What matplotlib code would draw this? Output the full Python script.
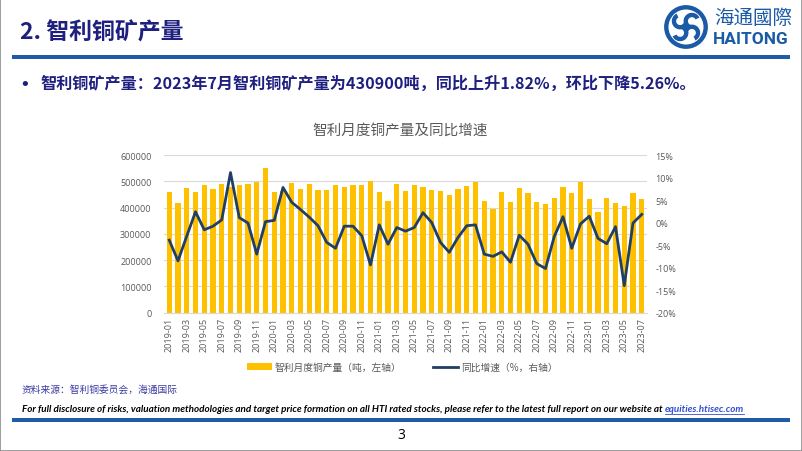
import numpy as np
import matplotlib
matplotlib.use("Agg")
import matplotlib.pyplot as plt
from matplotlib.patches import Circle, Rectangle, Wedge
from matplotlib.lines import Line2D

plt.rcParams['font.family'] = ['Noto Sans CJK SC', 'DejaVu Sans']

# monthly labels 2019-01 .. 2023-07
months = [f"{y}-{m:02d}" for y in range(2019, 2024) for m in range(1, 13)][:55]

# Chile monthly copper output (t)
output_t = [
    458000, 416000, 473000, 458000, 487000, 471000, 489000, 480000, 485000, 491000, 499000, 551000,
    461000, 462000, 495000, 471000, 491000, 466000, 466000, 485000, 480000, 487000, 486000, 500000,
    459000, 426000, 490000, 462000, 487000, 478000, 466000, 463000, 448000, 471000, 482000, 499000,
    426000, 395000, 459000, 420000, 475000, 456000, 423000, 415000, 435000, 477000, 454000, 499000,
    433000, 382000, 437000, 418000, 407000, 456000, 430900,
]

# year-on-year growth (%)
yoy_pct = [
    -3.9, -8.5, -3.0, 2.4, -1.6, -0.8, 0.6, 11.1, 1.1, -0.1, -7.0, 0.2,
    0.5, 7.8, 4.5, 2.9, 1.2, -0.7, -4.4, -5.7, -0.8, -0.8, -2.9, -9.4,
    -0.5, -4.8, -1.1, -1.9, -1.1, 2.2, 0.0, -4.4, -6.6, -3.3, -0.7, -0.5,
    -7.0, -7.5, -6.5, -8.8, -2.8, -4.8, -9.1, -10.2, -3.1, 1.3, -5.7, -0.3,
    1.4, -3.5, -4.7, -0.9, -14.0, -0.1, 1.82,
]

W, H = 802, 452
fig = plt.figure(figsize=(W / 100, H / 100), dpi=100)
fig.patch.set_facecolor("white")


def fx(x):
    return x / W


def fy(y):
    return 1 - y / H


navy = "#1F1F80"
blue = "#1F5BA8"
logo_blue = "#1B5AA6"

# slide frame and rules
fig.add_artist(Rectangle((0, 0), 1, 1, transform=fig.transFigure, fill=False,
                         edgecolor="#8C8C8C", linewidth=1.2))
fig.add_artist(Rectangle((fx(12), fy(60)), fx(778), 4 / H, transform=fig.transFigure,
                         facecolor=blue, edgecolor="none"))
fig.add_artist(Rectangle((fx(12), fy(423)), fx(778), 4 / H, transform=fig.transFigure,
                         facecolor=blue, edgecolor="none"))

# header
fig.text(fx(20), fy(33), "2. 智利铜矿产量", fontsize=16.5, fontweight="bold", color=navy,
         va="center", ha="left")

# logo (pinwheel in a ring)
lax = fig.add_axes([fx(663), fy(51), fx(46), 46 / H])
lax.set_xlim(-1.05, 1.05)
lax.set_ylim(-1.05, 1.05)
lax.set_aspect("equal")
lax.axis("off")
lax.add_patch(Circle((0, 0), 1.0, facecolor=logo_blue, edgecolor="none"))
lax.add_patch(Circle((0, 0), 0.8, facecolor="white", edgecolor="none"))
for ang in (45, 135, 225, 315):
    c = (0.38 * np.cos(np.radians(ang)), 0.38 * np.sin(np.radians(ang)))
    lax.add_patch(Wedge(c, 0.38, ang - 20, ang + 200, width=0.2,
                        facecolor=logo_blue, edgecolor="none"))
lax.add_patch(Circle((0, 0), 0.12, facecolor=logo_blue, edgecolor="none"))
fig.text(fx(714), fy(18), "海通國際", fontsize=14, color=logo_blue, va="center", ha="left")
fig.text(fx(713), fy(39), "HAITONG", fontsize=12.5, color=logo_blue, fontweight="bold",
         va="center", ha="left", family=["Roboto", "DejaVu Sans"])

# bullet line
fig.text(fx(19), fy(85), "•", fontsize=13, color=navy, va="center", ha="left",
         family=["DejaVu Sans"])
fig.text(fx(40), fy(84),
         "智利铜矿产量：2023年7月智利铜矿产量为430900吨，同比上升1.82%，环比下降5.26%。",
         fontsize=11.6, fontweight="bold", color=navy, va="center", ha="left")

# chart title
fig.text(fx(400), fy(131), "智利月度铜产量及同比增速", fontsize=10.5, color="#595959",
         va="center", ha="center")

# chart
ax = fig.add_axes([fx(164), fy(313.7), fx(647 - 164), (313.7 - 156) / H])
x = np.arange(len(months))
ax.bar(x, output_t, width=0.58, color="#FFC000", zorder=2)
ax.set_ylim(0, 600000)
ax.set_yticks(np.arange(0, 600001, 100000))
ax.set_xlim(-0.6, len(months) - 0.4)
ax.set_xticks(x[::2])
ax.set_xticklabels(months[::2], rotation=90, fontsize=6.5, color="#595959",
                   family=["Open Sans", "DejaVu Sans"])
ax.tick_params(axis="y", labelsize=6.5, labelcolor="#595959", length=0, pad=9)
ax.tick_params(axis="x", length=0, pad=3)
for lbl in ax.get_yticklabels():
    lbl.set_family(["Open Sans", "DejaVu Sans"])
ax.grid(axis="y", color="#D9D9D9", linewidth=0.8, zorder=0)
ax.set_axisbelow(True)
for s in ("top", "right", "left"):
    ax.spines[s].set_visible(False)
ax.spines["bottom"].set_color("#D9D9D9")

ax2 = ax.twinx()
ax2.plot(x, yoy_pct, color="#1F3F66", linewidth=2.0, zorder=3)
ax2.set_ylim(-20, 15)
ax2.set_yticks(np.arange(-20, 16, 5))
ax2.set_yticklabels([f"{v}%" for v in range(-20, 16, 5)], fontsize=6.5, color="#595959",
                    family=["Open Sans", "DejaVu Sans"])
ax2.tick_params(axis="y", length=0, pad=6)
for s in ("top", "right", "left", "bottom"):
    ax2.spines[s].set_visible(False)

# legend
handles = [Rectangle((0, 0), 1, 1, facecolor="#FFC000", edgecolor="none"),
           Line2D([0], [0], color="#1F3F66", linewidth=2)]
fig.legend(handles, ["智利月度铜产量（吨，左轴）", "同比增速（%，右轴）"],
           loc="center", bbox_to_anchor=(fx(402), fy(368)), ncol=2, frameon=False,
           fontsize=7, labelcolor="#595959", handlelength=2.6, handleheight=0.6,
           columnspacing=3.2, handletextpad=0.3)

# source and disclaimer
fig.text(fx(22), fy(390), "资料来源：智利铜委员会，海通国际", fontsize=7, color="#3A3AA0",
         va="center", ha="left")
disc = ("For full disclosure of risks, valuation methodologies and target price formation on all "
        "HTI rated stocks, please refer to the latest full report on our website at ")
link = "equities.htisec.com"
dfs = 6.9
dfam = ["Lato", "DejaVu Sans"]
t = fig.text(fx(22), fy(410), disc, fontsize=dfs, fontstyle="italic", fontweight="bold",
             color="black", va="center", ha="left", family=dfam)
t2 = fig.text(0, fy(410), link, fontsize=dfs, fontstyle="italic", fontweight="bold",
              color="#2F4FD0", va="center", ha="left", family=dfam)
fig.canvas.draw()
total = t.get_window_extent().width + t2.get_window_extent().width
dfs = dfs * 726 / total
t.set_fontsize(dfs)
t2.set_fontsize(dfs)
fig.canvas.draw()
t2.set_x(t.get_window_extent().x1 / W)
fig.canvas.draw()
lb = t2.get_window_extent()
fig.add_artist(Line2D([lb.x0 / W, lb.x1 / W], [fy(415), fy(415)], transform=fig.transFigure,
                      color="#2F4FD0", linewidth=0.6))

fig.text(fx(401), fy(436), "3", fontsize=10, color="black", va="center", ha="center",
         family=["Open Sans", "DejaVu Sans"])

fig.savefig("out.png", dpi=100, facecolor="white")
